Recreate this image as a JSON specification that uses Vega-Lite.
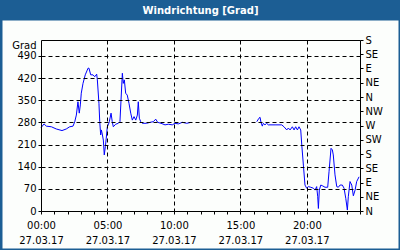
{
  "$schema": "https://vega.github.io/schema/vega-lite/v6.json",
  "width": 319,
  "height": 171,
  "autosize": "none",
  "padding": {"left": 41, "top": 40, "right": 40, "bottom": 39},
  "background": "#1c5e94",
  "title": {"text": "Windrichtung [Grad]", "color": "#ffffff", "font": "DejaVu Sans", "fontSize": 10, "fontWeight": "bold", "anchor": "middle", "frame": "group", "offset": 4},
  "config": {
    "view": {"stroke": null},
    "axis": {"labelFont": "DejaVu Sans", "labelFontSize": 10, "labelColor": "#000000", "tickColor": "#000000", "domainColor": "#000000", "titleFont": "DejaVu Sans", "titleFontSize": 10, "titleColor": "#000000", "labelOverlap": false, "labelFlush": false}
  },
  "data": {"values": [
    {"h": 0, "v": 263, "seg": 1}, {"h": 0.23, "v": 275, "seg": 1}, {"h": 0.4, "v": 268, "seg": 1}, {"h": 0.78, "v": 266, "seg": 1},
    {"h": 1.15, "v": 259, "seg": 1}, {"h": 1.58, "v": 254, "seg": 1}, {"h": 1.9, "v": 259, "seg": 1}, {"h": 2.16, "v": 266, "seg": 1},
    {"h": 2.41, "v": 268, "seg": 1}, {"h": 2.54, "v": 282, "seg": 1}, {"h": 2.66, "v": 303, "seg": 1}, {"h": 2.78, "v": 345, "seg": 1},
    {"h": 2.88, "v": 309, "seg": 1}, {"h": 2.96, "v": 335, "seg": 1}, {"h": 3.03, "v": 372, "seg": 1}, {"h": 3.16, "v": 403, "seg": 1},
    {"h": 3.33, "v": 430, "seg": 1}, {"h": 3.54, "v": 451, "seg": 1}, {"h": 3.61, "v": 451, "seg": 1}, {"h": 3.74, "v": 430, "seg": 1},
    {"h": 3.91, "v": 430, "seg": 1}, {"h": 4.04, "v": 424, "seg": 1}, {"h": 4.19, "v": 432, "seg": 1}, {"h": 4.24, "v": 414, "seg": 1},
    {"h": 4.36, "v": 340, "seg": 1}, {"h": 4.42, "v": 282, "seg": 1}, {"h": 4.49, "v": 240, "seg": 1}, {"h": 4.54, "v": 256, "seg": 1},
    {"h": 4.61, "v": 243, "seg": 1}, {"h": 4.69, "v": 224, "seg": 1}, {"h": 4.76, "v": 177, "seg": 1}, {"h": 4.84, "v": 203, "seg": 1},
    {"h": 4.91, "v": 230, "seg": 1}, {"h": 4.99, "v": 266, "seg": 1}, {"h": 5.06, "v": 272, "seg": 1}, {"h": 5.14, "v": 282, "seg": 1},
    {"h": 5.27, "v": 309, "seg": 1}, {"h": 5.36, "v": 282, "seg": 1}, {"h": 5.44, "v": 266, "seg": 1}, {"h": 5.62, "v": 274, "seg": 1},
    {"h": 5.82, "v": 277, "seg": 1}, {"h": 5.94, "v": 282, "seg": 1}, {"h": 6.02, "v": 350, "seg": 1}, {"h": 6.12, "v": 435, "seg": 1},
    {"h": 6.19, "v": 403, "seg": 1}, {"h": 6.27, "v": 414, "seg": 1}, {"h": 6.37, "v": 372, "seg": 1}, {"h": 6.49, "v": 366, "seg": 1},
    {"h": 6.62, "v": 340, "seg": 1}, {"h": 6.75, "v": 309, "seg": 1}, {"h": 6.87, "v": 287, "seg": 1}, {"h": 7.0, "v": 298, "seg": 1},
    {"h": 7.13, "v": 287, "seg": 1}, {"h": 7.25, "v": 303, "seg": 1}, {"h": 7.32, "v": 345, "seg": 1}, {"h": 7.4, "v": 293, "seg": 1},
    {"h": 7.5, "v": 282, "seg": 1}, {"h": 7.62, "v": 277, "seg": 1}, {"h": 7.95, "v": 277, "seg": 1}, {"h": 8.2, "v": 280, "seg": 1},
    {"h": 8.45, "v": 282, "seg": 1}, {"h": 8.63, "v": 290, "seg": 1}, {"h": 8.78, "v": 280, "seg": 1}, {"h": 9.03, "v": 277, "seg": 1},
    {"h": 9.33, "v": 272, "seg": 1}, {"h": 9.58, "v": 274, "seg": 1}, {"h": 9.88, "v": 272, "seg": 1}, {"h": 10.08, "v": 277, "seg": 1},
    {"h": 10.33, "v": 275, "seg": 1}, {"h": 10.63, "v": 280, "seg": 1}, {"h": 10.96, "v": 277, "seg": 1}, {"h": 11.29, "v": 280, "seg": 1},
    {"h": 16.23, "v": 282, "seg": 2}, {"h": 16.4, "v": 293, "seg": 2}, {"h": 16.48, "v": 296, "seg": 2}, {"h": 16.55, "v": 280, "seg": 2},
    {"h": 16.65, "v": 268, "seg": 2}, {"h": 16.73, "v": 277, "seg": 2}, {"h": 16.85, "v": 272, "seg": 2}, {"h": 16.98, "v": 277, "seg": 2},
    {"h": 17.1, "v": 272, "seg": 2}, {"h": 17.61, "v": 272, "seg": 2}, {"h": 18.11, "v": 272, "seg": 2}, {"h": 18.28, "v": 266, "seg": 2},
    {"h": 18.49, "v": 256, "seg": 2}, {"h": 18.61, "v": 262, "seg": 2}, {"h": 18.74, "v": 256, "seg": 2}, {"h": 18.91, "v": 266, "seg": 2},
    {"h": 19.04, "v": 256, "seg": 2}, {"h": 19.16, "v": 266, "seg": 2}, {"h": 19.29, "v": 256, "seg": 2}, {"h": 19.41, "v": 266, "seg": 2},
    {"h": 19.54, "v": 256, "seg": 2}, {"h": 19.62, "v": 208, "seg": 2}, {"h": 19.74, "v": 145, "seg": 2}, {"h": 19.86, "v": 82, "seg": 2},
    {"h": 19.99, "v": 72, "seg": 2}, {"h": 20.11, "v": 77, "seg": 2}, {"h": 20.29, "v": 75, "seg": 2}, {"h": 20.49, "v": 72, "seg": 2},
    {"h": 20.62, "v": 66, "seg": 2}, {"h": 20.74, "v": 77, "seg": 2}, {"h": 20.82, "v": 45, "seg": 2}, {"h": 20.87, "v": 8, "seg": 2},
    {"h": 20.94, "v": 66, "seg": 2}, {"h": 21.05, "v": 82, "seg": 2}, {"h": 21.2, "v": 79, "seg": 2}, {"h": 21.37, "v": 75, "seg": 2},
    {"h": 21.57, "v": 75, "seg": 2}, {"h": 21.67, "v": 124, "seg": 2}, {"h": 21.82, "v": 198, "seg": 2}, {"h": 21.92, "v": 193, "seg": 2},
    {"h": 21.99, "v": 177, "seg": 2}, {"h": 22.12, "v": 114, "seg": 2}, {"h": 22.25, "v": 77, "seg": 2}, {"h": 22.37, "v": 75, "seg": 2},
    {"h": 22.5, "v": 82, "seg": 2}, {"h": 22.67, "v": 82, "seg": 2}, {"h": 22.8, "v": 72, "seg": 2}, {"h": 22.93, "v": 40, "seg": 2},
    {"h": 23.05, "v": 3, "seg": 2}, {"h": 23.12, "v": 45, "seg": 2}, {"h": 23.25, "v": 93, "seg": 2}, {"h": 23.38, "v": 82, "seg": 2},
    {"h": 23.5, "v": 48, "seg": 2}, {"h": 23.63, "v": 66, "seg": 2}, {"h": 23.75, "v": 93, "seg": 2}, {"h": 23.93, "v": 108, "seg": 2}
  ]},
  "layer": [
    {
      "mark": {"type": "line", "strokeOpacity": 0},
      "encoding": {
        "x": {"field": "h", "type": "quantitative", "scale": {"domain": [0, 24], "nice": false, "zero": false}, "axis": null},
        "y": {"field": "v", "type": "quantitative", "scale": {"domain": [0, 540], "nice": false, "zero": false},
              "axis": {"orient": "left", "offset": -357, "values": [243.2], "tickSize": 396, "tickWidth": 228, "tickColor": "#fcfefc", "tickCap": "butt", "domain": false, "labels": false, "grid": false, "title": null, "zindex": 0}},
        "detail": {"field": "seg", "type": "nominal"}
      }
    },
    {
      "mark": {"type": "line", "color": "#0000ff", "strokeWidth": 1},
      "encoding": {
        "x": {"field": "h", "type": "quantitative",
              "axis": {"orient": "bottom", "values": [0,1,2,3,4,5,6,7,8,9,10,11,12,13,14,15,16,17,18,19,20,21,22,23,24],
                       "labelExpr": "datum.value % 5 == 0 && datum.value < 24 ? [(datum.value < 10 ? '0' : '') + datum.value + ':00', '27.03.17'] : ''",
                       "labelLineHeight": 15, "labelPadding": 6, "tickSize": 3, "domainWidth": 1,
                       "grid": true, "gridColor": "#000000", "gridDash": [4, 3],
                       "gridOpacity": {"condition": {"test": "datum.value % 5 == 0 && datum.value > 0 && datum.value < 24", "value": 1}, "value": 0},
                       "title": null, "zindex": 1}},
        "y": {"field": "v", "type": "quantitative",
              "axis": {"orient": "left", "values": [0, 70, 140, 210, 280, 350, 420, 490], "tickSize": 3, "labelPadding": 2,
                       "grid": true, "gridColor": "#000000", "gridDash": [4, 3],
                       "title": "Grad", "titleAngle": 0, "titleAlign": "right", "titleBaseline": "alphabetic", "titleX": -5, "titleY": 8, "titleFontWeight": "normal",
                       "zindex": 1}},
        "detail": {"field": "seg", "type": "nominal"}
      }
    },
    {
      "mark": {"type": "line", "strokeOpacity": 0},
      "encoding": {
        "x": {"field": "h", "type": "quantitative",
              "axis": {"orient": "top", "ticks": false, "labels": false, "grid": false, "domain": true, "title": null, "zindex": 1}},
        "y": {"field": "v", "type": "quantitative",
              "axis": {"orient": "right", "values": [0, 45, 90, 135, 180, 225, 270, 315, 360, 405, 450, 495, 540],
                       "labelExpr": "['N','NE','E','SE','S','SW','W','NW','N','NE','E','SE','S'][round(datum.value / 45)]",
                       "tickSize": 3, "labelPadding": 2, "grid": false, "title": null, "zindex": 1}},
        "detail": {"field": "seg", "type": "nominal"}
      }
    }
  ],
  "resolve": {"axis": {"x": "independent", "y": "independent"}}
}
